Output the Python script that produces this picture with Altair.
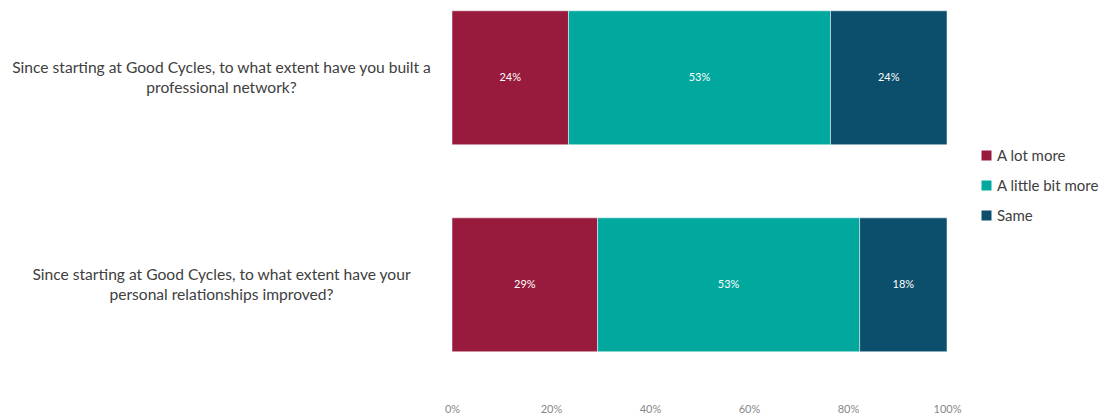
import altair as alt
import pandas as pd

questions = [
    "Since starting at Good Cycles, to what extent have you built a|professional network?",
    "Since starting at Good Cycles, to what extent have your|personal relationships improved?",
]
responses = ["A lot more", "A little bit more", "Same"]
colors = ["#981B3D", "#00A89D", "#0B4F6C"]
# shares per question (n = 17 respondents)
values_q1 = [4 / 17, 9 / 17, 4 / 17]
values_q2 = [5 / 17, 9 / 17, 3 / 17]

rows = []
for q, vals in zip(questions, [values_q1, values_q2]):
    for i, (r, v) in enumerate(zip(responses, vals)):
        rows.append({"question": q, "response": r, "order": i, "value": v})
df = pd.DataFrame(rows)

FONT = "Lato"

base = (
    alt.Chart(df)
    .transform_stack(
        stack="value", as_=["x0", "x1"], groupby=["question"],
        sort=[alt.SortField("order", order="ascending")],
    )
    .transform_calculate(mid="(datum.x0 + datum.x1) / 2")
)

yenc = alt.Y(
    "question:N",
    sort=questions,
    title=None,
    scale=alt.Scale(paddingInner=0.353, paddingOuter=0.1305, align=0.2),
    axis=alt.Axis(
        domain=False, ticks=False, labelAlign="center", labelBaseline="middle",
        labelPadding=231, labelExpr="split(datum.label, '|')", labelLineHeight=20.5,
        labelOffset=-10,
        labelFontSize=15.6, labelColor="#404040", labelFont=FONT, labelLimit=0,
    ),
)

bars = base.mark_bar(stroke="white", strokeWidth=0.5).encode(
    x=alt.X(
        "x0:Q",
        title=None,
        scale=alt.Scale(domain=[0, 1], nice=False),
        axis=alt.Axis(
            values=[0, 0.2, 0.4, 0.6, 0.8, 1.0], format=".0%", grid=False, domain=False,
            ticks=False, labelFontSize=11, labelColor="#888888", labelFont=FONT,
            labelPadding=8, labelFlush=False,
        ),
    ),
    x2="x1:Q",
    y=yenc,
    color=alt.Color(
        "response:N",
        sort=responses,
        scale=alt.Scale(domain=responses, range=colors),
        legend=alt.Legend(
            title=None, orient="none", legendX=527, legendY=148,
            symbolType="square", symbolSize=100, symbolStrokeWidth=0,
            labelFontSize=15, labelColor="#404040", labelFont=FONT,
            rowPadding=14, labelOffset=3,
        ),
    ),
    order=alt.Order("order:Q"),
)

labels = base.mark_text(color="white", fontSize=11, font=FONT).encode(
    x=alt.X("mid:Q"),
    y=alt.Y("question:N", sort=questions),
    text=alt.Text("value:Q", format=".0%"),
)

chart = (
    alt.layer(bars, labels)
    .properties(
        width=495, height=395,
        autosize=alt.AutoSizeParams(type="none"),
        padding={"top": 0, "left": 452, "right": 161, "bottom": 22},
    )
    .configure_view(stroke=None)
)

chart.save("out.html", embed_options={"renderer": "svg", "actions": False})
